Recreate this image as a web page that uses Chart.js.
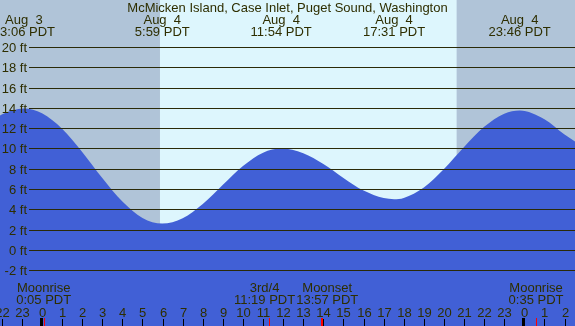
<!DOCTYPE html>
<html>
<head>
<meta charset="utf-8">
<script src="https://cdn.jsdelivr.net/npm/chart.js@4"></script>
<style>
  body { margin: 0; background: #b0c4d8; }
  canvas { display: block; }
</style>
</head>
<body>
<canvas id="tide" width="575" height="326"></canvas>
<script>
// hours are counted from midnight Aug 4 (negative = Aug 3)
const tideHours = [-3, -2, -0.9, 0, 1, 2, 3, 4, 5, 5.98, 7, 8, 9, 10, 11, 11.9, 13, 14, 15, 16, 17, 17.52, 18, 19, 20, 21, 22, 23, 23.77, 25, 26, 27];
const tideFeet = [11.9, 13.35, 13.95, 13.48, 11.95, 9.66, 7.09, 4.77, 3.16, 2.6, 3.13, 4.53, 6.42, 8.27, 9.59, 10.0, 9.54, 8.47, 7.10, 5.85, 5.11, 5.0, 5.13, 6.16, 7.98, 10.15, 12.13, 13.43, 13.75, 12.88, 11.37, 10.07];

const extremaHours = [-0.9, 5.983, 11.9, 17.517, 23.767];
const extremaDays = ["Aug  3", "Aug  4", "Aug  4", "Aug  4", "Aug  4"];
const extremaTimes = ["23:06 PDT", "5:59 PDT", "11:54 PDT", "17:31 PDT", "23:46 PDT"];

const sunHours = [5.87, 20.63]; // sunrise, sunset

const moonHours = [0.083, 11.317, 13.95, 24.583];
const moonNames = ["Moonrise", "3rd/4", "Moonset", "Moonrise"];
const moonTimes = ["0:05 PDT", "11:19 PDT", "13:57 PDT", "0:35 PDT"];

const feetTicks = [-2, 0, 2, 4, 6, 8, 10, 12, 14, 16, 18, 20];
const hourTicks = [-2, -1, 0, 1, 2, 3, 4, 5, 6, 7, 8, 9, 10, 11, 12, 13, 14, 15, 16, 17, 18, 19, 20, 21, 22, 23, 24, 25, 26];

const title = "McMicken Island, Case Inlet, Puget Sound, Washington";

const FONT = "13px 'Liberation Sans', Arial, sans-serif";
const INK = "#2e2e00";
const GRID = "#2a2a08";

const tidePlugin = {
  id: "tidePlugin",
  beforeDatasetsDraw(chart) {
    const { ctx, chartArea: a, scales: { x } } = chart;
    ctx.save();
    ctx.fillStyle = "#b0c4d8";
    ctx.fillRect(a.left, a.top, a.right - a.left, a.bottom - a.top);
    const x1 = x.getPixelForValue(sunHours[0]);
    const x2 = x.getPixelForValue(sunHours[1]);
    ctx.fillStyle = "#ddf6fd";
    ctx.fillRect(x1, a.top, x2 - x1, a.bottom - a.top);
    ctx.restore();
  },
  afterDatasetsDraw(chart) {
    const { ctx, chartArea: a, scales: { x, y } } = chart;
    ctx.save();
    ctx.font = FONT;

    // horizontal grid + ft labels
    feetTicks.forEach(v => {
      const py = Math.round(y.getPixelForValue(v)) + 0.5;
      ctx.strokeStyle = GRID;
      ctx.lineWidth = 1;
      ctx.beginPath();
      ctx.moveTo(29, py);
      ctx.lineTo(a.right, py);
      ctx.stroke();
      ctx.fillStyle = INK;
      ctx.textAlign = "right";
      ctx.textBaseline = "alphabetic";
      ctx.fillText(v + " ft", 27, py + 4.5);
    });

    // title and tide extrema
    ctx.textAlign = "center";
    ctx.fillStyle = INK;
    ctx.fillText(title, (a.left + a.right) / 2, 11.5);
    extremaHours.forEach((h, i) => {
      const px = x.getPixelForValue(h);
      ctx.fillText(extremaDays[i], px, 23.5);
      ctx.fillText(extremaTimes[i], px, 35.5);
    });

    // moon labels, pushed apart when they would overlap
    const pos = moonHours.map((h, i) => {
      const w = Math.max(ctx.measureText(moonNames[i]).width, ctx.measureText(moonTimes[i]).width);
      return { c: x.getPixelForValue(h), w };
    });
    for (let i = 1; i < pos.length; i++) {
      const p = pos[i - 1], q = pos[i];
      const need = (p.w + q.w) / 2 + 1;
      if (q.c - p.c < need) {
        const push = (need - (q.c - p.c)) / 2;
        p.c -= push;
        q.c += push;
      }
    }
    pos.forEach((p, i) => {
      ctx.fillText(moonNames[i], p.c, 292);
      ctx.fillText(moonTimes[i], p.c, 304);
    });

    // hour ticks + labels
    hourTicks.forEach(h => {
      const px = Math.round(x.getPixelForValue(h));
      const mid = h % 24 === 0;
      ctx.fillStyle = "#000";
      if (mid) ctx.fillRect(px - 2, 318, 3, a.bottom - 318);
      else ctx.fillRect(px, 319, 1, a.bottom - 319);
      ctx.fillStyle = INK;
      ctx.fillText(String(((h % 24) + 24) % 24), px + 0.5, 316.5);
    });
    moonHours.forEach((h, i) => {
      const px = Math.round(x.getPixelForValue(h));
      ctx.fillStyle = "#ff0000";
      const wide = moonNames[i] === "Moonset" ? 2 : 1;
      ctx.fillRect(px - (wide - 1), 318, wide, a.bottom - 318);
    });
    ctx.restore();
  }
};

new Chart(document.getElementById("tide").getContext("2d"), {
  type: "line",
  data: {
    datasets: [{
      data: tideHours.map((h, i) => ({ x: h, y: tideFeet[i] })),
      backgroundColor: "#4160d6",
      borderWidth: 0,
      pointRadius: 0,
      fill: "start",
      cubicInterpolationMode: "monotone"
    }]
  },
  options: {
    responsive: false,
    animation: false,
    layout: { padding: 0 },
    plugins: { legend: { display: false }, tooltip: { enabled: false } },
    scales: {
      x: { type: "linear", min: -2.09, max: 26.52, display: false },
      y: { min: -7.49, max: 24.63, display: false }
    }
  },
  plugins: [tidePlugin]
});
</script>
</body>
</html>
